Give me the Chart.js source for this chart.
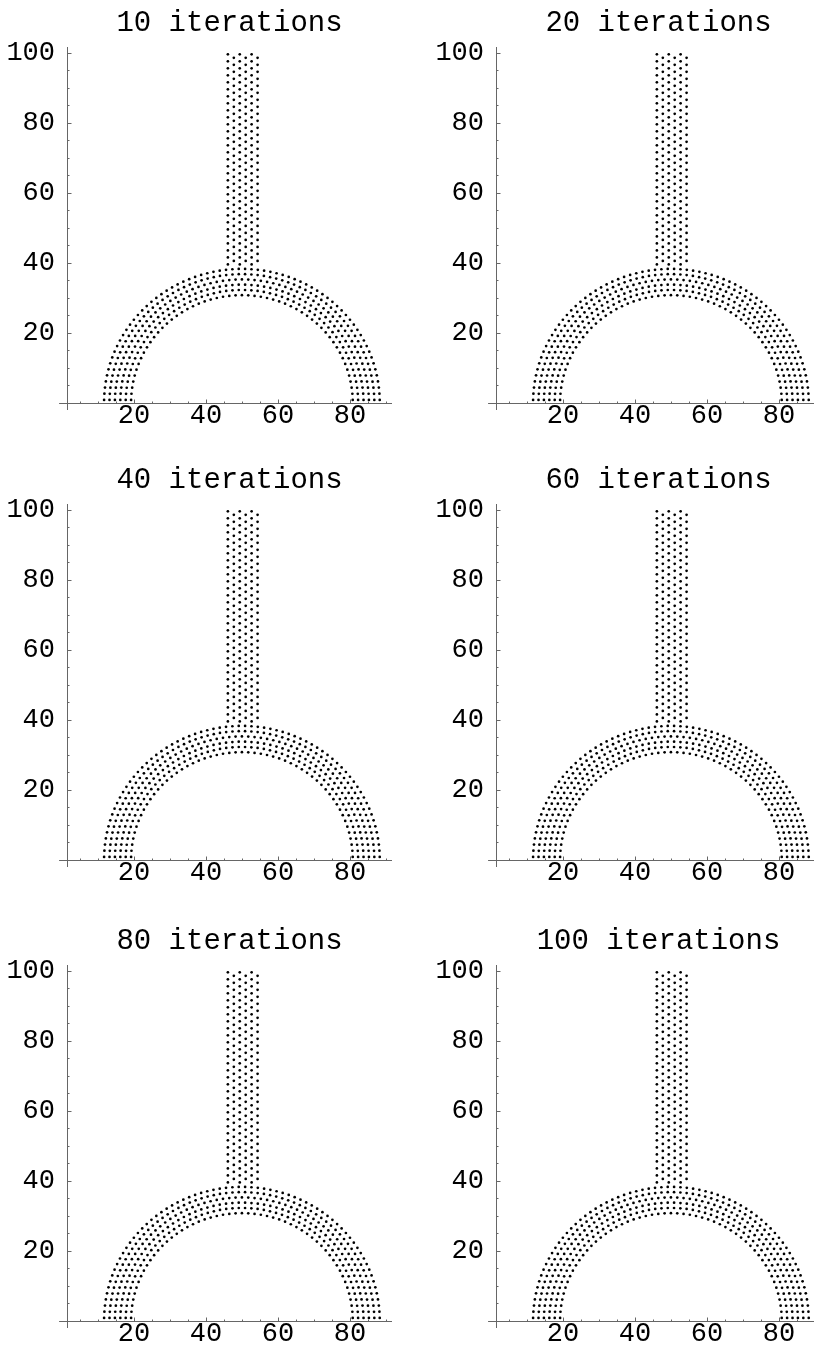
<!DOCTYPE html>
<html>
<head>
<meta charset="utf-8">
<script src="https://cdn.jsdelivr.net/npm/chart.js@4.4.1/dist/chart.umd.min.js"></script>
<style>
  html, body { margin: 0; padding: 0; background: #fff; }
  body { width: 814px; height: 1348px; position: relative; overflow: hidden; }
  .panel { position: absolute; width: 430px; height: 452px; }
  .panel canvas { position: absolute; left: 0; top: 0; }
  .title {
    position: absolute; left: 0; top: 7px; width: 459px;
    text-align: center; white-space: nowrap; color: #000;
    font: 29px "Liberation Mono", "DejaVu Sans Mono", monospace;
  }
</style>
</head>
<body>
<script>
// panel titles, one per plot
const panelTitles = ['10 iterations', '20 iterations', '40 iterations',
                     '60 iterations', '80 iterations', '100 iterations'];

// tick labels
const xTicks = [20, 40, 60, 80];
const yTicks = [20, 40, 60, 80, 100];

// half ring of dots round (50, 0): radius of each ring of dots and how many dots sit on it
const ringCenterX = 50;
const ringRadius = [30.8, 32.3, 33.8, 35.3, 36.8, 38.3];
const ringDotCount = [55, 58, 60, 63, 66, 68];

// vertical stem: dot columns, the height of the lowest dot in each, spacing up the column
const stemColumnX = [46.1, 47.75, 49.4, 51.05, 52.7, 54.35];
const stemColumnStartY = [39.6, 40.6, 39.6, 40.6, 39.6, 40.6];
const stemDotStep = 2.0;
const stemTopY = 99.7;

// where the axes cross and how far they run
const axisX = 1.4, axisY = 0;
const xMin = 1.4, xMax = 91.7, yMin = 0, yMax = 101.7;

function buildPoints() {
  const pts = [];
  ringRadius.forEach((r, i) => {
    const n = ringDotCount[i];
    for (let k = 0; k < n; k++) {
      const a = Math.PI * (k + 0.5) / n;
      pts.push({ x: ringCenterX + r * Math.cos(a), y: r * Math.sin(a) });
    }
  });
  stemColumnX.forEach((x, j) => {
    for (let y = stemColumnStartY[j]; y <= stemTopY; y += stemDotStep) {
      pts.push({ x: x, y: y });
    }
  });
  return pts;
}

// axis lines with little tails, major ticks inward, minor ticks every 5
const axesPlugin = {
  id: 'mmaAxes',
  afterDraw(chart) {
    const ctx = chart.ctx, xs = chart.scales.x, ys = chart.scales.y;
    const X0 = Math.round(xs.getPixelForValue(axisX)) + 0.5;
    const Y0 = Math.round(ys.getPixelForValue(axisY)) + 0.5;
    ctx.save();
    ctx.strokeStyle = '#666';
    ctx.lineWidth = 1;
    ctx.beginPath();
    ctx.moveTo(X0, ys.getPixelForValue(-2));
    ctx.lineTo(X0, ys.getPixelForValue(yMax));
    ctx.moveTo(xs.getPixelForValue(-0.8), Y0);
    ctx.lineTo(xs.getPixelForValue(xMax), Y0);
    for (let v = 5; v <= 100; v += 5) {
      const len = v % 20 === 0 ? 4 : 2;
      const py = Math.round(ys.getPixelForValue(v)) + 0.5;
      ctx.moveTo(X0, py);
      ctx.lineTo(X0 + len, py);
    }
    for (let v = 5; v <= 90; v += 5) {
      const len = v % 20 === 0 ? 4 : 2;
      const px = Math.round(xs.getPixelForValue(v)) + 0.5;
      ctx.moveTo(px, Y0);
      ctx.lineTo(px, Y0 - len);
    }
    ctx.stroke();
    ctx.restore();
  }
};

const colLeft = [0, 429];
const rowTop = [0, 457, 918];
const points = buildPoints();

panelTitles.forEach((title, i) => {
  const panel = document.createElement('div');
  panel.className = 'panel';
  panel.style.left = colLeft[i % 2] + 'px';
  panel.style.top = rowTop[Math.floor(i / 2)] + 'px';
  const canvas = document.createElement('canvas');
  canvas.width = 430;
  canvas.height = 452;
  panel.appendChild(canvas);
  const t = document.createElement('div');
  t.className = 'title';
  t.textContent = title;
  panel.appendChild(t);
  document.body.appendChild(panel);

  const tickFont = { family: 'Liberation Mono', size: 27 };
  new Chart(canvas, {
    type: 'scatter',
    data: {
      datasets: [{
        data: points,
        pointRadius: 1.35,
        pointHoverRadius: 1.35,
        pointStyle: 'circle',
        backgroundColor: '#000',
        borderWidth: 0
      }]
    },
    options: {
      responsive: false,
      animation: false,
      events: [],
      layout: { padding: { top: 47, right: 38, bottom: 13, left: 0 } },
      plugins: { legend: { display: false }, tooltip: { enabled: false } },
      scales: {
        x: {
          type: 'linear', min: xMin, max: xMax,
          grid: { display: false }, border: { display: false },
          afterBuildTicks: s => { s.ticks = xTicks.map(v => ({ value: v })); },
          afterFit: s => { s.height = 36; },
          ticks: { font: tickFont, color: '#000', padding: -11, maxRotation: 0, autoSkip: false }
        },
        y: {
          type: 'linear', min: yMin, max: yMax,
          grid: { display: false }, border: { display: false },
          afterBuildTicks: s => { s.ticks = yTicks.map(v => ({ value: v })); },
          afterFit: s => { s.width = 67; },
          ticks: { font: tickFont, color: '#000', padding: 4, autoSkip: false }
        }
      }
    },
    plugins: [axesPlugin]
  });
});
</script>
</body>
</html>
